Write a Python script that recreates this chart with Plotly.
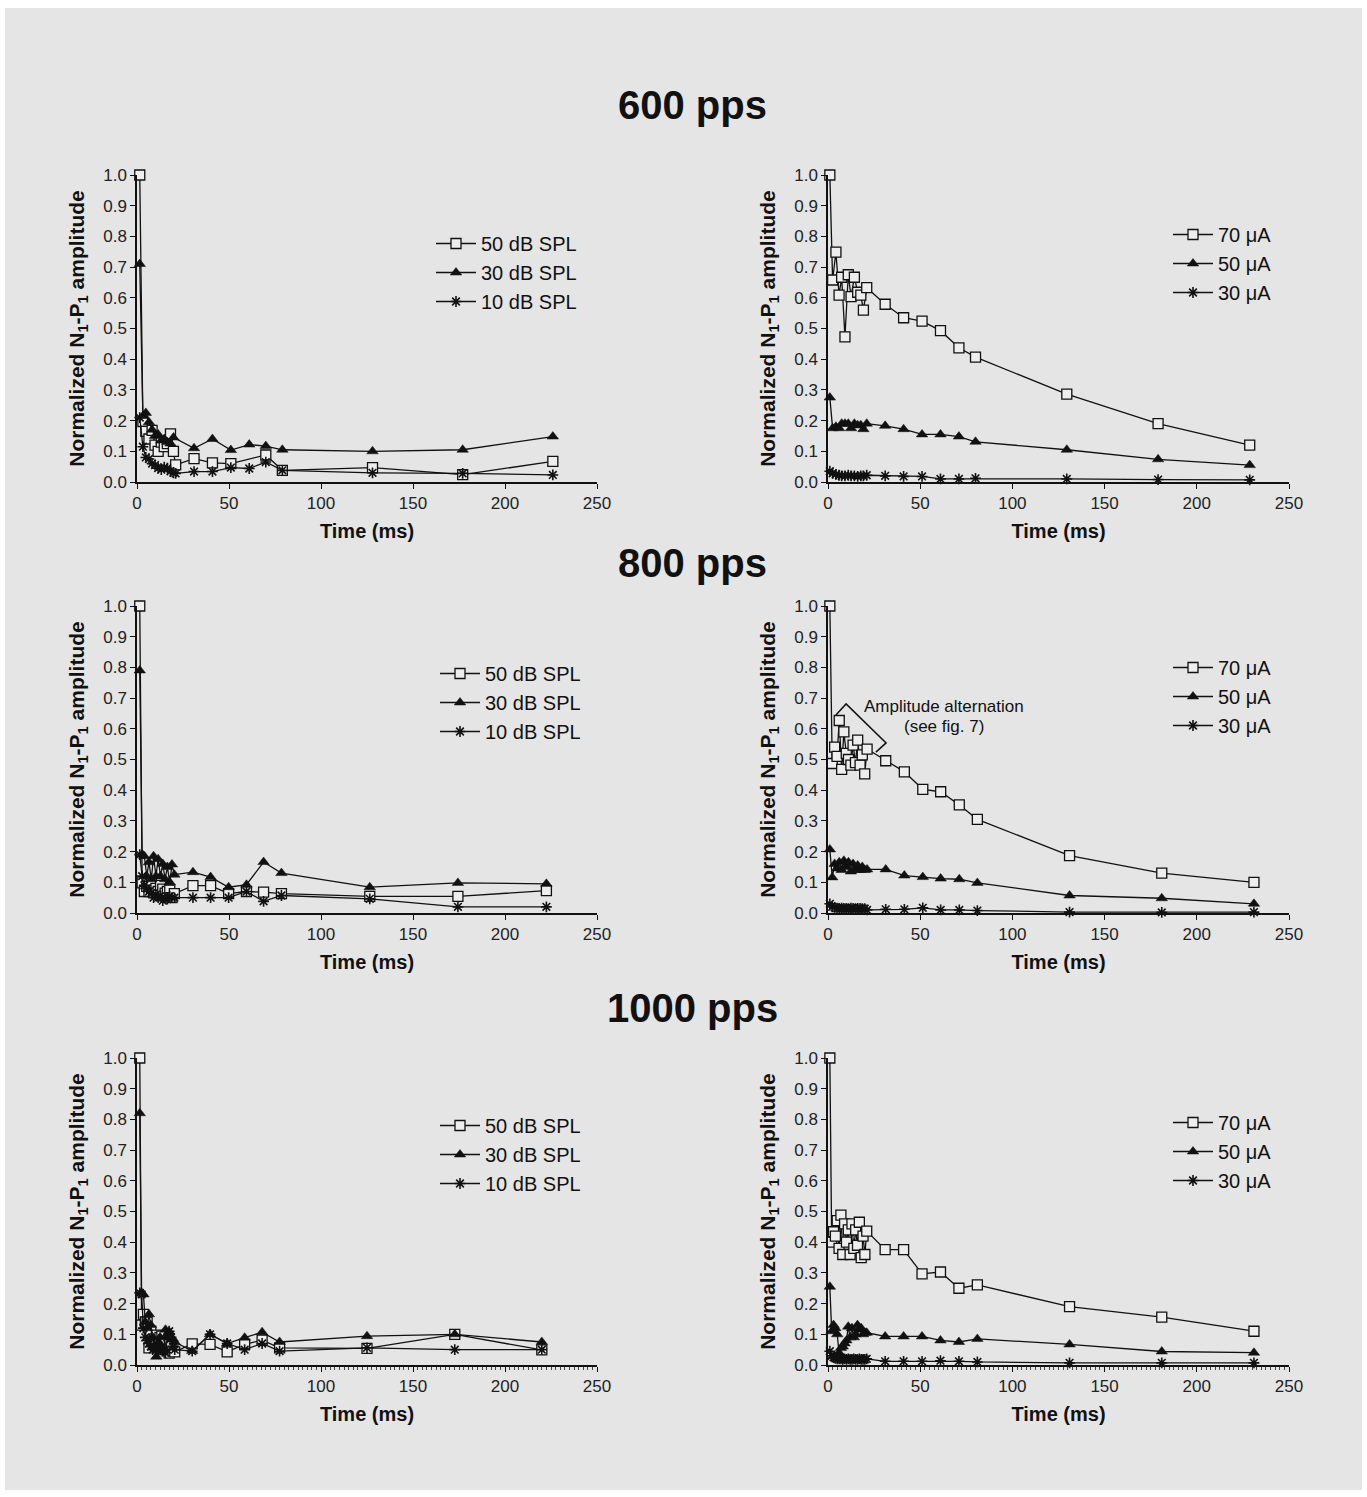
import plotly.graph_objects as go

W, H = 1367, 1497

# ---------------- data ----------------
# 600 pps, acoustic clicks
T600_50DB = [1.5, 3.2, 4.8, 6.5, 8.2, 9.8, 11.5, 13.2, 14.8, 16.5, 18.2, 19.8,
             21, 31, 41, 51, 70, 79, 128, 177, 226]
A600_50DB = [1.0, 0.197, 0.165, 0.14, 0.168, 0.12, 0.10, 0.13, 0.115, 0.125, 0.157, 0.10,
             0.056, 0.076, 0.062, 0.06, 0.088, 0.038, 0.047, 0.024, 0.067]
T600_30DB = [1.5, 3.2, 4.8, 6.5, 8.2, 9.8, 11.5, 13.2, 14.8, 16.5, 18.2, 19.8,
             31, 41, 51, 61, 70, 79, 128, 177, 226]
A600_30DB = [0.71, 0.215, 0.225, 0.195, 0.17, 0.15, 0.155, 0.135, 0.14, 0.13, 0.125, 0.145,
             0.11, 0.14, 0.104, 0.122, 0.117, 0.105, 0.10, 0.105, 0.148]
T600_10DB = [1.5, 3.2, 4.8, 6.5, 8.2, 9.8, 11.5, 13.2, 14.8, 16.5, 18.2, 19.8,
             21, 31, 41, 51, 61, 70, 79, 128, 177, 226]
A600_10DB = [0.21, 0.115, 0.08, 0.075, 0.06, 0.055, 0.045, 0.04, 0.048, 0.045, 0.035, 0.03,
             0.028, 0.034, 0.034, 0.047, 0.044, 0.065, 0.038, 0.03, 0.028, 0.023]

# 600 pps, electrical pulses
T600_EL = [1.0, 2.5, 4.3, 6.0, 7.4, 9.2, 11.0, 12.5, 14.3, 16.1, 17.8, 19.2,
           21, 31, 41, 51, 61, 71, 80, 129.5, 179, 228.7]
A600_70UA = [1.0, 0.658, 0.749, 0.609, 0.667, 0.473, 0.675, 0.604, 0.667, 0.618, 0.609, 0.56,
             0.633, 0.579, 0.535, 0.524, 0.493, 0.437, 0.407, 0.286, 0.19, 0.12]
A600_50UA = [0.275, 0.175, 0.18, 0.175, 0.19, 0.19, 0.19, 0.175, 0.19, 0.185, 0.185, 0.172,
             0.19, 0.183, 0.172, 0.155, 0.155, 0.148, 0.131, 0.105, 0.074, 0.055]
A600_30UA = [0.035, 0.028, 0.025, 0.022, 0.02, 0.02, 0.022, 0.02, 0.02, 0.018, 0.02, 0.02,
             0.022, 0.02, 0.018, 0.018, 0.01, 0.01, 0.012, 0.01, 0.008, 0.007]

# 800 pps, acoustic clicks
T800_AC = [1.5, 2.8, 4.0, 5.3, 6.5, 7.8, 9.0, 10.3, 11.5, 12.8, 14.0, 15.3, 16.5, 17.8, 19.0, 20.3,
           30.4, 40, 49.8, 59.5, 68.8, 78.5, 126.5, 174.4, 222.5]
A800_50DB = [1.0, 0.098, 0.07, 0.087, 0.07, 0.098, 0.067, 0.08, 0.07, 0.09, 0.078, 0.065, 0.07, 0.075, 0.05, 0.063,
             0.089, 0.089, 0.063, 0.07, 0.068, 0.063, 0.054, 0.054, 0.073]
A800_30DB = [0.79, 0.19, 0.185, 0.12, 0.165, 0.11, 0.185, 0.12, 0.175, 0.12, 0.16, 0.11, 0.15, 0.10, 0.158, 0.125,
             0.133, 0.117, 0.084, 0.092, 0.166, 0.13, 0.084, 0.098, 0.095]
A800_10DB = [0.19, 0.12, 0.09, 0.08, 0.07, 0.065, 0.05, 0.06, 0.05, 0.055, 0.04, 0.05, 0.045, 0.055, 0.05, 0.05,
             0.05, 0.05, 0.05, 0.07, 0.038, 0.057, 0.046, 0.02, 0.02]

# 800 pps, electrical pulses
T800_EL = [1.0, 2.3, 3.6, 4.9, 6.1, 7.4, 8.6, 9.9, 11.1, 12.4, 13.6, 14.9, 16.1, 17.4, 18.6, 19.9,
           21.2, 31.3, 41.4, 51.4, 61.1, 71.2, 81, 131, 181, 231]
A800_70UA = [1.0, 0.487, 0.54, 0.51, 0.627, 0.468, 0.59, 0.52, 0.50, 0.482, 0.547, 0.49, 0.563, 0.482, 0.515, 0.453,
             0.534, 0.496, 0.46, 0.403, 0.395, 0.352, 0.305, 0.187, 0.13, 0.10]
A800_50UA = [0.207, 0.116, 0.16, 0.145, 0.165, 0.14, 0.17, 0.15, 0.165, 0.135, 0.16, 0.14, 0.155, 0.14, 0.15, 0.14,
             0.142, 0.142, 0.122, 0.117, 0.112, 0.11, 0.098, 0.057, 0.048, 0.03]
A800_30UA = [0.03, 0.02, 0.018, 0.016, 0.015, 0.016, 0.015, 0.015, 0.014, 0.016, 0.015, 0.014, 0.015, 0.015, 0.014, 0.014,
             0.01, 0.012, 0.012, 0.017, 0.01, 0.01, 0.008, 0.003, 0.002, 0.003]

# 1000 pps, acoustic clicks
T1000_AC = [1.5, 2.5, 3.5, 4.5, 5.5, 6.5, 7.5, 8.5, 9.5, 10.5, 11.5, 12.5, 13.5, 14.5, 15.5, 16.5, 17.5, 18.5, 19.5, 20.5,
            30, 39.7, 49, 58.5, 68, 77.5, 125, 172.7, 220]
A1000_50DB = [1.0, 0.13, 0.165, 0.14, 0.14, 0.056, 0.11, 0.078, 0.085, 0.097, 0.064, 0.09, 0.094, 0.064, 0.07, 0.05,
              0.039, 0.06, 0.045, 0.043,
              0.069, 0.067, 0.043, 0.067, 0.081, 0.056, 0.054, 0.10, 0.049]
A1000_30DB = [0.82, 0.235, 0.23, 0.14, 0.12, 0.165, 0.13, 0.09, 0.06, 0.027, 0.07, 0.09, 0.06, 0.05, 0.115, 0.10,
              0.108, 0.09, 0.085, 0.075,
              0.046, 0.10, 0.07, 0.089, 0.107, 0.075, 0.094, 0.10, 0.075]
A1000_10DB = [0.235, 0.23, 0.12, 0.09, 0.08, 0.07, 0.06, 0.05, 0.06, 0.05, 0.045, 0.05, 0.06, 0.045, 0.04, 0.09,
              0.11, 0.09, 0.06, 0.05,
              0.045, 0.10, 0.07, 0.05, 0.07, 0.045, 0.056, 0.05, 0.05]

# 1000 pps, electrical pulses
T1000_EL = [1, 2, 3, 4, 5, 6, 7, 8, 9, 10, 11, 12, 13, 14, 15, 16, 17, 18, 19, 20,
            21, 31, 41, 51, 61, 71, 81, 131, 181, 231]
A1000_70UA = [1.0, 0.40, 0.434, 0.42, 0.47, 0.38, 0.488, 0.36, 0.46, 0.40, 0.44, 0.36, 0.46, 0.38, 0.44, 0.39,
              0.465, 0.35, 0.42, 0.36,
              0.436, 0.376, 0.376, 0.297, 0.303, 0.25, 0.261, 0.19, 0.156, 0.11]
A1000_50UA = [0.255, 0.11, 0.13, 0.12, 0.10, 0.04, 0.055, 0.06, 0.07, 0.08, 0.125, 0.09, 0.12, 0.09, 0.10, 0.13,
              0.115, 0.12, 0.10, 0.105,
              0.105, 0.093, 0.093, 0.093, 0.08, 0.075, 0.085, 0.067, 0.044, 0.04]
A1000_30UA = [0.045, 0.03, 0.025, 0.022, 0.02, 0.02, 0.02, 0.018, 0.02, 0.018, 0.02, 0.018, 0.018, 0.02, 0.018, 0.018,
              0.02, 0.018, 0.018, 0.018,
              0.02, 0.012, 0.012, 0.012, 0.014, 0.012, 0.01, 0.007, 0.007, 0.007]

ROW_TITLES = ["600 pps", "800 pps", "1000 pps"]
ACOUSTIC_NAMES = ["50 dB SPL", "30 dB SPL", "10 dB SPL"]
ELECTRIC_NAMES = ["70 \u03bcA", "50 \u03bcA", "30 \u03bcA"]

# ---------------- styling ----------------
BG = "#e5e5e5"
INK = "#111111"
FONT = "Liberation Sans, Arial, sans-serif"

MARKERS = [
    dict(symbol="square", size=10, color="#eeeeee", line=dict(color=INK, width=1.3)),
    dict(symbol="triangle-up", size=10, color=INK, line=dict(color=INK, width=0.5)),
    dict(symbol="asterisk", size=9, color=INK, line=dict(color=INK, width=1.6)),
]

# plot-area pixel boxes (left, right) and (top, bottom)
COLS_PX = [(137, 597), (828, 1289)]
ROWS_PX = [(175, 482), (606, 913), (1058, 1365)]
TITLE_Y_PX = [105, 563, 1008]
# legend: left of the sample line, centre of the first entry
LEGEND_PX = [(433, 240), (1170, 231), (437, 670), (1170, 664), (437, 1122), (1170, 1119)]

panels = [
    (ACOUSTIC_NAMES, [(T600_50DB, A600_50DB), (T600_30DB, A600_30DB), (T600_10DB, A600_10DB)]),
    (ELECTRIC_NAMES, [(T600_EL, A600_70UA), (T600_EL, A600_50UA), (T600_EL, A600_30UA)]),
    (ACOUSTIC_NAMES, [(T800_AC, A800_50DB), (T800_AC, A800_30DB), (T800_AC, A800_10DB)]),
    (ELECTRIC_NAMES, [(T800_EL, A800_70UA), (T800_EL, A800_50UA), (T800_EL, A800_30UA)]),
    (ACOUSTIC_NAMES, [(T1000_AC, A1000_50DB), (T1000_AC, A1000_30DB), (T1000_AC, A1000_10DB)]),
    (ELECTRIC_NAMES, [(T1000_EL, A1000_70UA), (T1000_EL, A1000_50UA), (T1000_EL, A1000_30UA)]),
]

fig = go.Figure()
layout = dict(
    width=W, height=H,
    margin=dict(l=0, r=0, t=0, b=0),
    paper_bgcolor="white",
    plot_bgcolor="rgba(0,0,0,0)",
    font=dict(family=FONT, color=INK),
    showlegend=True,
)

for i, (names, series) in enumerate(panels):
    row, col = divmod(i, 2)
    k = i + 1
    sfx = "" if k == 1 else str(k)
    legend_id = "legend" if k == 1 else f"legend{k}"
    for j, (name, (t, a)) in enumerate(zip(names, series)):
        fig.add_trace(go.Scatter(
            x=t, y=a, name=name, mode="lines+markers",
            line=dict(color=INK, width=1.3),
            marker=MARKERS[j],
            cliponaxis=False,
            xaxis=f"x{sfx}", yaxis=f"y{sfx}",
            legend=legend_id, legendgroup=f"g{k}_{j}",
        ))
    x0, x1 = COLS_PX[col]
    y0, y1 = ROWS_PX[row]
    xaxis = dict(
        domain=[x0 / W, x1 / W], anchor=f"y{sfx}", range=[0, 250],
        dtick=50, tick0=0, ticks="outside", ticklen=5, tickwidth=1.3, tickcolor=INK,
        showline=True, linecolor=INK, linewidth=1.5, showgrid=False, zeroline=False,
        tickfont=dict(size=17, family=FONT, color="#222"),
        title=dict(text="<b>Time (ms)</b>", font=dict(size=20, family=FONT, color=INK), standoff=12),
        automargin=False,
    )
    if row == 2:
        # the 1000 pps panels carry fine minor ticks along the time axis
        xaxis["minor"] = dict(dtick=2.5, ticks="outside", ticklen=3, tickwidth=0.8,
                              tickcolor="#444", showgrid=False)
    layout[f"xaxis{sfx}"] = xaxis
    layout[f"yaxis{sfx}"] = dict(
        domain=[1 - y1 / H, 1 - y0 / H], anchor=f"x{sfx}", range=[0, 1.0],
        dtick=0.1, tick0=0, tickformat=".1f", ticks="outside", ticklen=5, tickwidth=1.3, tickcolor=INK,
        showline=True, linecolor=INK, linewidth=1.5, showgrid=False, zeroline=False,
        tickfont=dict(size=17, family=FONT, color="#222"),
        title=dict(text="<b>Normalized N<sub>1</sub>-P<sub>1</sub> amplitude</b>",
                   font=dict(size=21, family=FONT, color=INK), standoff=13),
        automargin=False,
    )
    lx, ly = LEGEND_PX[i]
    layout[legend_id] = dict(
        x=(lx - 2) / W, y=1 - (ly - 16) / H, xanchor="left", yanchor="top",
        bgcolor="rgba(0,0,0,0)", borderwidth=0,
        font=dict(size=20, family=FONT, color=INK),
        tracegroupgap=0, itemwidth=40,
    )

fig.update_layout(**layout)

# grey panel behind the whole figure
fig.add_shape(type="rect", xref="paper", yref="paper",
              x0=5 / W, x1=1362 / W, y0=1 - 1490 / H, y1=1 - 8 / H,
              fillcolor=BG, line=dict(width=0), layer="below")

for title, ty in zip(ROW_TITLES, TITLE_Y_PX):
    fig.add_annotation(text=f"<b>{title}</b>", xref="paper", yref="paper",
                       x=692 / W, y=1 - ty / H, xanchor="center", yanchor="middle",
                       showarrow=False, font=dict(size=40, family=FONT, color=INK))

# bracket marking the alternating responses (800 pps, 70 uA)
fig.add_shape(type="path", xref="x4", yref="y4",
              path="M 4.3,0.645 L 9.8,0.681 L 31.5,0.554 L 26,0.524",
              line=dict(color=INK, width=1.5))
fig.add_annotation(text="Amplitude alternation", xref="x4", yref="y4", x=63, y=0.674,
                   showarrow=False, font=dict(size=17, family=FONT, color=INK))
fig.add_annotation(text="(see fig. 7)", xref="x4", yref="y4", x=63, y=0.606,
                   showarrow=False, font=dict(size=17, family=FONT, color=INK))

fig.write_html("out.html")
